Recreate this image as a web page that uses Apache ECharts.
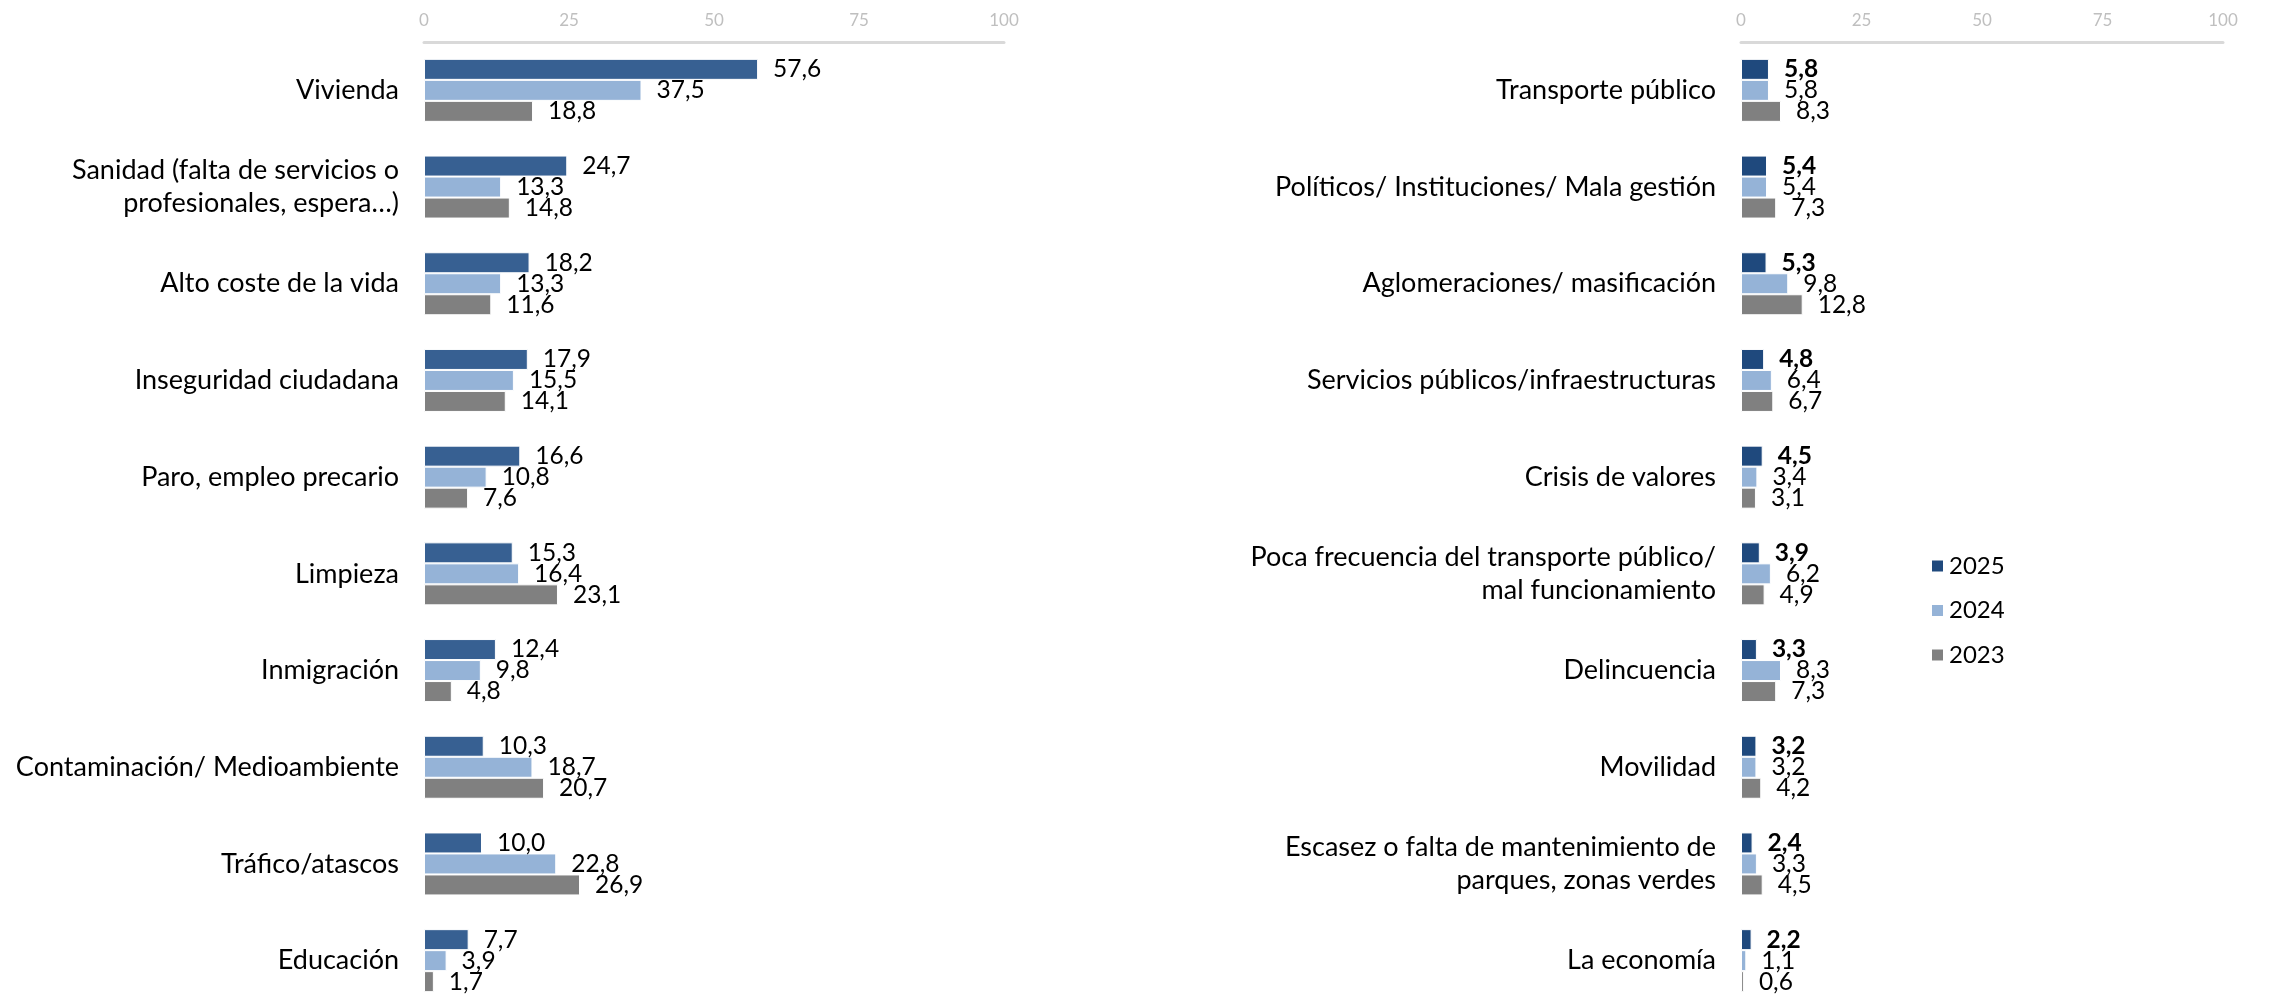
<!DOCTYPE html>
<html>
<head>
<meta charset="utf-8">
<script src="https://cdn.jsdelivr.net/npm/echarts@6/dist/echarts.min.js"></script>
<style>
  html, body { margin: 0; padding: 0; background: #fff; overflow: hidden; }
  #chart { width: 2270px; height: 1010px; }
</style>
</head>
<body>
<div id="chart"></div>
<script>
'use strict';

var years = ['2025', '2024', '2023'];

var leftCategories = ['Vivienda', 'Sanidad (falta de servicios o\nprofesionales, espera…)', 'Alto coste de la vida',
  'Inseguridad ciudadana', 'Paro, empleo precario', 'Limpieza', 'Inmigración',
  'Contaminación/ Medioambiente', 'Tráfico/atascos', 'Educación'];
var left2025 = [57.6, 24.7, 18.2, 17.9, 16.6, 15.3, 12.4, 10.3, 10.0, 7.7];
var left2024 = [37.5, 13.3, 13.3, 15.5, 10.8, 16.4, 9.8, 18.7, 22.8, 3.9];
var left2023 = [18.8, 14.8, 11.6, 14.1, 7.6, 23.1, 4.8, 20.7, 26.9, 1.7];

var rightCategories = ['Transporte público', 'Políticos/ Instituciones/ Mala gestión', 'Aglomeraciones/ masificación',
  'Servicios públicos/infraestructuras', 'Crisis de valores', 'Poca frecuencia del transporte público/\nmal funcionamiento',
  'Delincuencia', 'Movilidad', 'Escasez o falta de mantenimiento de\nparques, zonas verdes', 'La economía'];
var right2025 = [5.8, 5.4, 5.3, 4.8, 4.5, 3.9, 3.3, 3.2, 2.4, 2.2];
var right2024 = [5.8, 5.4, 9.8, 6.4, 3.4, 6.2, 8.3, 3.2, 3.3, 1.1];
var right2023 = [8.3, 7.3, 12.8, 6.7, 3.1, 4.9, 7.3, 4.2, 4.5, 0.6];

var xTicks = [0, 25, 50, 75, 100];

var colors = { left2025: '#376092', right2025: '#1f497d', y2024: '#95b3d7', y2023: '#808080' };
var font = 'Lato';

function fmt(p) {
  return p.value.toFixed(1).replace('.', ',');
}

function xAxisFor(gridIndex) {
  return {
    gridIndex: gridIndex, type: 'value', position: 'top', min: xTicks[0], max: xTicks[xTicks.length - 1], interval: 25,
    axisLine: { show: true, lineStyle: { color: '#d9d9d9', width: 3 } },
    axisTick: { show: false }, splitLine: { show: false },
    axisLabel: { color: '#bfbfbf', fontSize: 17, fontFamily: font, margin: 13 }
  };
}

function yAxisFor(gridIndex, cats) {
  return {
    gridIndex: gridIndex, type: 'category', data: cats, inverse: true,
    axisLine: { show: false }, axisTick: { show: false },
    axisLabel: { color: '#000', fontSize: 27, fontFamily: font, margin: 25, lineHeight: 33 }
  };
}

function bar(name, idx, data, color, bold) {
  return {
    name: name, type: 'bar', xAxisIndex: idx, yAxisIndex: idx, data: data,
    barWidth: 21, barGap: '0%', barCategoryGap: '35%',
    itemStyle: { color: color, borderColor: '#fff', borderWidth: 1 },
    label: {
      show: true, position: 'right', distance: 15, formatter: fmt,
      color: '#000', fontSize: 24.5, fontFamily: font, fontWeight: bold ? 'bold' : 'normal'
    },
    animation: false
  };
}

var chart = echarts.init(document.getElementById('chart'));
chart.setOption({
  animation: false,
  grid: [
    { left: 424, top: 42, width: 580, height: 967 },
    { left: 1741, top: 42, width: 482, height: 967 }
  ],
  xAxis: [xAxisFor(0), xAxisFor(1)],
  yAxis: [yAxisFor(0, leftCategories), yAxisFor(1, rightCategories)],
  legend: {
    orient: 'vertical', left: 1925, top: 549, icon: 'rect', itemWidth: 13, itemHeight: 13, itemGap: 20.5,
    textStyle: { color: '#000', fontSize: 24, fontFamily: font, lineHeight: 24 },
    data: [
      { name: years[0], itemStyle: { color: colors.right2025 } },
      { name: years[1], itemStyle: { color: colors.y2024 } },
      { name: years[2], itemStyle: { color: colors.y2023 } }
    ]
  },
  series: [
    bar(years[0], 0, left2025, colors.left2025, false),
    bar(years[1], 0, left2024, colors.y2024, false),
    bar(years[2], 0, left2023, colors.y2023, false),
    bar(years[0], 1, right2025, colors.right2025, true),
    bar(years[1], 1, right2024, colors.y2024, false),
    bar(years[2], 1, right2023, colors.y2023, false)
  ]
});
</script>
</body>
</html>
